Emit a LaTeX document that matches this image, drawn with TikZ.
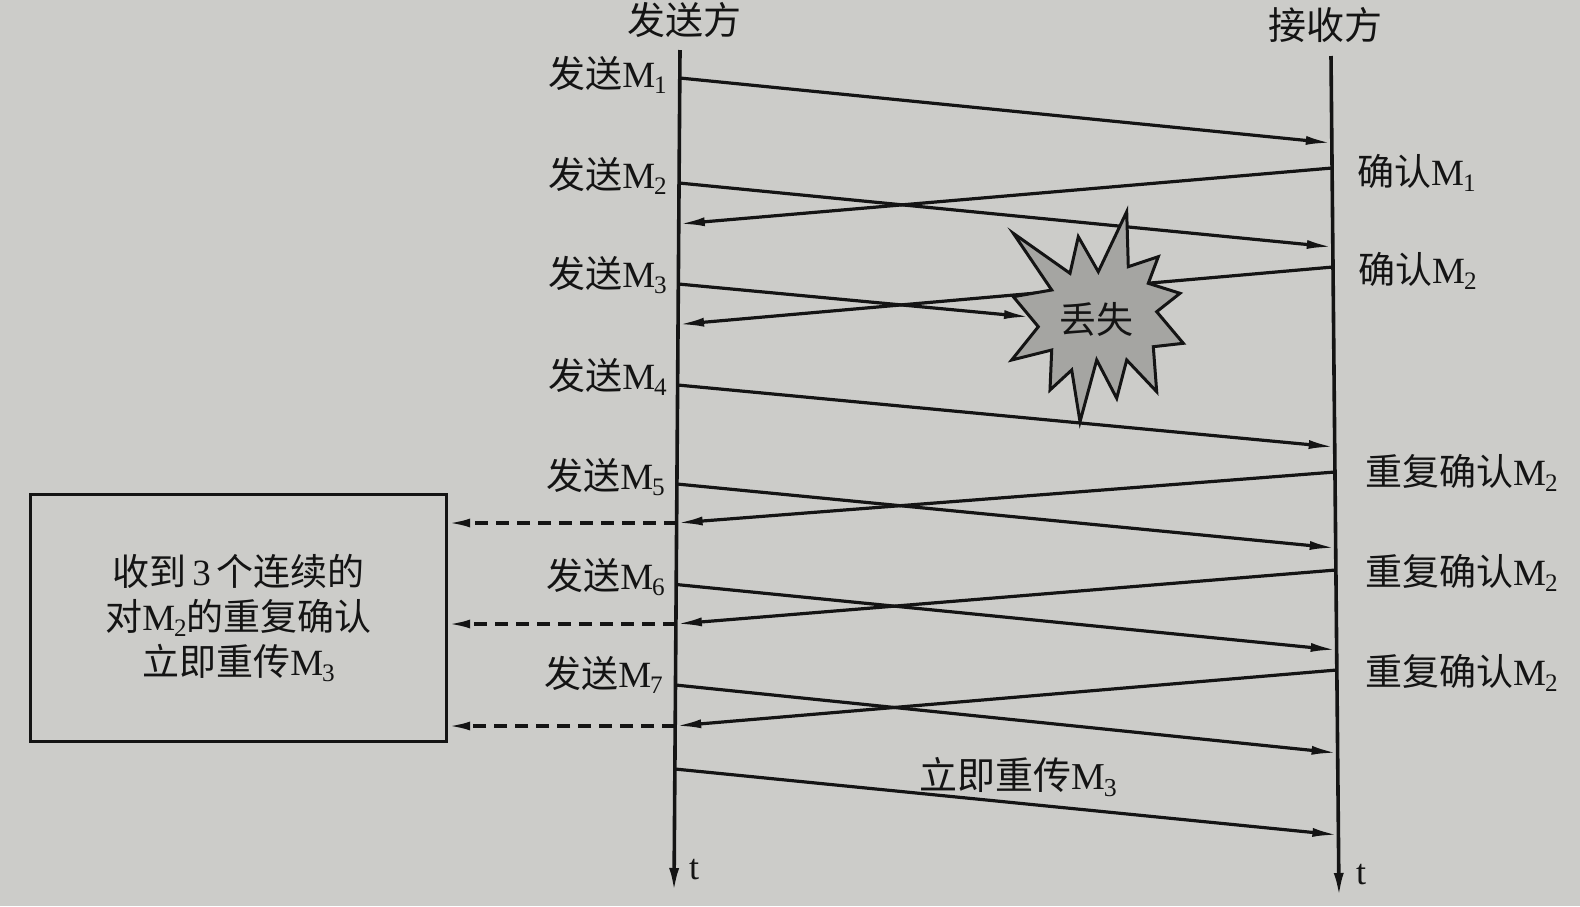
\documentclass[tikz,border=0pt]{standalone}
\usepackage{fontspec}
\setmainfont{Liberation Serif}
\newfontfamily\cjk{Noto Sans CJK SC}
\usetikzlibrary{arrows.meta}
\definecolor{paper}{RGB}{204,204,201}
\definecolor{ink}{RGB}{20,20,20}
\definecolor{burst}{RGB}{165,165,162}
\newcommand{\Msub}[1]{M\kern-1pt\raisebox{-0.16em}{\fontsize{0.68em}{0.7em}\selectfont #1}}
\begin{document}
\begin{tikzpicture}[x=1pt,y=-1pt,
  life/.style={draw=ink,line width=3.6pt,-{Latex[length=24pt,width=10pt]}},
  msg/.style={draw=ink,line width=3.2pt,-{Latex[length=26pt,width=9pt]}},
  dupl/.style={draw=ink,line width=3.2pt,dash pattern=on 13pt off 8pt,-{Latex[length=22pt,width=9pt]}},
  lbl/.style={inner sep=0pt,font=\fontsize{37}{42}\selectfont,text=ink},
  head/.style={inner sep=0pt,font=\fontsize{38}{42}\selectfont,text=ink}]
\useasboundingbox (0,0) rectangle (1580,906);
\fill[paper] (0,0) rectangle (1580,906);

% lifelines
\coordinate (stop) at (680,50);
\coordinate (sbot) at (674,892);
\coordinate (rtop) at (1331,56);
\coordinate (rbot) at (1339,897);
\draw[life] (stop) -- (sbot);
\draw[life] (rtop) -- (rbot);

\node[head] (sender) at (684,20) {\cjk 发送方};
\node[head] (receiver) at (1325,25) {\cjk 接收方};
\node[lbl,font=\fontsize{36}{40}\selectfont] (ts) at (694,870) {t};
\node[lbl,font=\fontsize{36}{40}\selectfont] (tr) at (1361,875) {t};

% sender points
\coordinate (s1) at (679.8,78);
\coordinate (s2) at (679.05,183);
\coordinate (a1s) at (678.76,224);
\coordinate (s3) at (678.33,284);
\coordinate (a2s) at (678.04,324.5);
\coordinate (s4) at (677.6,385);
\coordinate (s5) at (676.9,484);
\coordinate (d1s) at (676.6,523);
\coordinate (s6) at (676.2,584.5);
\coordinate (d2s) at (675.9,624);
\coordinate (s7) at (675.5,685);
\coordinate (d3s) at (675.2,726);
\coordinate (s8) at (674.9,769);
% receiver points
\coordinate (r1) at (1331.8,143);
\coordinate (a1r) at (1332.1,168);
\coordinate (r2) at (1332.8,247);
\coordinate (a2r) at (1333,267);
\coordinate (r4) at (1334.7,447);
\coordinate (d1r) at (1335,472);
\coordinate (r5) at (1335.7,548);
\coordinate (d2r) at (1335.9,570);
\coordinate (r6) at (1336.7,650);
\coordinate (d3r) at (1336.9,670);
\coordinate (r7) at (1337.6,753);
\coordinate (r8) at (1338.4,835);
\coordinate (lostedge) at (1030,317);

% messages
\draw[msg] (s1) -- (r1);
\draw[msg] (a1r) -- (a1s);
\draw[msg] (s2) -- (r2);
\draw[msg] (a2r) -- (a2s);
\draw[msg] (s3) -- (lostedge);
\draw[msg] (s4) -- (r4);
\draw[msg] (d1r) -- (d1s);
\draw[msg] (s5) -- (r5);
\draw[msg] (d2r) -- (d2s);
\draw[msg] (s6) -- (r6);
\draw[msg] (d3r) -- (d3s);
\draw[msg] (s7) -- (r7);
\draw[msg] (s8) -- (r8);

% explosion
\filldraw[fill=burst,draw=ink,line width=3pt,line join=miter,miter limit=20]
  (1126.7,211.7) -- (1128.3,266.7) -- (1158.3,256.7) -- (1148.3,283.3) -- (1180,293.3)
  -- (1156.7,311.7) -- (1183.3,343.3) -- (1153.3,346.7) -- (1156.7,391.7) -- (1126.7,360)
  -- (1116.7,398.3) -- (1096.7,360) -- (1080,421.7) -- (1071.7,370) -- (1050,390)
  -- (1051.7,350) -- (1011.7,360) -- (1038.3,326.7) -- (1013.3,296.7) -- (1051.7,290)
  -- (1013.3,233.3) -- (1070,273.3) -- (1078.3,236.7) -- (1098.3,271.7) -- cycle;
\node[lbl,font=\fontsize{37}{40}\selectfont] (lost) at (1096,319) {\cjk 丢失};

% sender labels
\node[lbl,anchor=east] (ls1) at (667,75) {{\cjk 发送}\Msub{1}};
\node[lbl,anchor=east] (ls2) at (667,176) {{\cjk 发送}\Msub{2}};
\node[lbl,anchor=east] (ls3) at (667,275) {{\cjk 发送}\Msub{3}};
\node[lbl,anchor=east] (ls4) at (667,377) {{\cjk 发送}\Msub{4}};
\node[lbl,anchor=east] (ls5) at (665,477) {{\cjk 发送}\Msub{5}};
\node[lbl,anchor=east] (ls6) at (665,577) {{\cjk 发送}\Msub{6}};
\node[lbl,anchor=east] (ls7) at (663,675) {{\cjk 发送}\Msub{7}};

% receiver labels
\node[lbl,anchor=west] (lr1) at (1357,173) {{\cjk 确认}\Msub{1}};
\node[lbl,anchor=west] (lr2) at (1358,271) {{\cjk 确认}\Msub{2}};
\node[lbl,anchor=west] (lr3) at (1365,473) {{\cjk 重复确认}\Msub{2}};
\node[lbl,anchor=west] (lr4) at (1365,573) {{\cjk 重复确认}\Msub{2}};
\node[lbl,anchor=west] (lr5) at (1365,673) {{\cjk 重复确认}\Msub{2}};

\node[lbl,font=\fontsize{38}{42}\selectfont] (retx) at (1018,777) {{\cjk 立即重传}\Msub{3}};

% box
\node[draw=ink,line width=3.4pt,minimum width=416pt,minimum height=247pt,align=center,
      inner sep=0pt,font=\fontsize{37}{45}\selectfont,text=ink] (box) at (238.5,618)
  {{\cjk 收到}\,3\,{\cjk 个连续的}\\{\cjk 对}\Msub{2}{\cjk 的重复确认}\\{\cjk 立即重传}\Msub{3}};

\draw[dupl] (d1s) -- (d1s -| box.east);
\draw[dupl] (d2s) -- (d2s -| box.east);
\draw[dupl] (d3s) -- (d3s -| box.east);
\end{tikzpicture}
\end{document}
